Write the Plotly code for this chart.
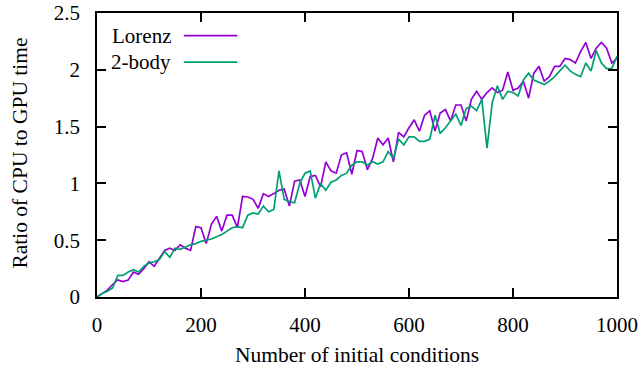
import plotly.graph_objects as go

x_vals = list(range(0, 1001, 10))

lorenz = [0, 0.03, 0.06, 0.11, 0.15, 0.135, 0.15, 0.22, 0.20, 0.25,
          0.31, 0.27, 0.34, 0.41, 0.43, 0.41, 0.46, 0.43, 0.41, 0.62,
          0.61, 0.47, 0.64, 0.71, 0.58, 0.72, 0.72, 0.61, 0.885, 0.88,
          0.86, 0.78, 0.91, 0.885, 0.91, 0.94, 0.95, 0.80, 1.02, 1.03,
          0.885, 1.06, 1.07, 0.97, 1.19, 1.11, 1.09, 1.25, 1.27, 1.08,
          1.29, 1.28, 1.12, 1.22, 1.40, 1.34, 1.40, 1.19, 1.45, 1.41,
          1.49, 1.56, 1.46, 1.60, 1.64, 1.46, 1.62, 1.65, 1.55, 1.69,
          1.69, 1.55, 1.74, 1.81, 1.74, 1.80, 1.84, 1.80, 1.82, 1.98,
          1.82, 1.84, 1.90, 1.75, 1.97, 2.03, 1.90, 1.94, 2.03, 2.03,
          2.10, 2.09, 2.06, 2.16, 2.24, 2.10, 2.19, 2.24, 2.19, 2.06,
          2.10]

two_body = [0, 0.03, 0.05, 0.08, 0.19, 0.19, 0.22, 0.24, 0.22, 0.27,
            0.30, 0.31, 0.33, 0.40, 0.35, 0.43, 0.42, 0.44, 0.46, 0.47,
            0.49, 0.50, 0.51, 0.53, 0.55, 0.58, 0.61, 0.62, 0.61, 0.72,
            0.74, 0.73, 0.80, 0.75, 0.77, 1.11, 0.86, 0.84, 0.83, 1.00,
            1.09, 1.11, 0.87, 1.00, 0.94, 1.01, 1.03, 1.07, 1.09, 1.16,
            1.19, 1.19, 1.16, 1.19, 1.17, 1.19, 1.28, 1.22, 1.39, 1.34,
            1.41, 1.41, 1.37, 1.37, 1.39, 1.60, 1.44, 1.49, 1.55, 1.61,
            1.51, 1.66, 1.68, 1.64, 1.74, 1.31, 1.71, 1.86, 1.74, 1.81,
            1.80, 1.77, 1.91, 1.97, 1.91, 1.89, 1.87, 1.90, 1.94, 1.99,
            2.04, 1.99, 1.96, 1.94, 2.06, 1.99, 2.17, 2.06, 2.01, 2.01,
            2.12]

series_names = ["Lorenz", "2-body"]
colors = ["#9400D3", "#009E73"]

x_tick_vals = [0, 200, 400, 600, 800, 1000]
y_tick_vals = [0, 0.5, 1, 1.5, 2, 2.5]

x_title = "Number of initial conditions"
y_title = "Ratio of CPU to GPU time"

FONT = "Liberation Serif"
FS = 21

fig = go.Figure()
for name, ys, c in zip(series_names, [lorenz, two_body], colors):
    fig.add_trace(go.Scatter(x=x_vals, y=ys, mode="lines", name=name,
                             line=dict(color=c, width=1.7), showlegend=False))

# gnuplot-style legend: text then line sample
leg_y = [0.92, 0.827]
for name, c, ly in zip(series_names, colors, leg_y):
    fig.add_annotation(xref="paper", yref="paper", x=0.147, y=ly, text=name,
                       showarrow=False, xanchor="right", yanchor="middle",
                       font=dict(family=FONT, size=FS, color="black"))
    fig.add_shape(type="line", xref="paper", yref="paper",
                  x0=0.167, x1=0.27, y0=ly, y1=ly,
                  line=dict(color=c, width=1.7))

# axis titles
fig.add_annotation(xref="paper", yref="paper", x=0.5, y=-0.204, text=x_title,
                   showarrow=False, xanchor="center", yanchor="middle",
                   font=dict(family=FONT, size=21.5, color="black"))
fig.add_annotation(xref="paper", yref="paper", x=-0.148, y=0.505, text=y_title,
                   showarrow=False, xanchor="center", yanchor="middle",
                   textangle=-90,
                   font=dict(family=FONT, size=21.5, color="black"))

axis_common = dict(showgrid=False, zeroline=False, showline=True,
                   linecolor="black", linewidth=1.5, mirror="ticks",
                   ticks="inside", ticklen=9, tickwidth=1.5, tickcolor="black",
                   automargin=False, ticklabeloverflow="allow",
                   tickfont=dict(family=FONT, size=FS, color="black"))

fig.update_xaxes(range=[0, 1000], tickvals=x_tick_vals,
                 ticklabelstandoff=8, **axis_common)
fig.update_yaxes(range=[0, 2.5], tickvals=y_tick_vals,
                 ticklabelstandoff=11, **axis_common)

fig.update_layout(width=644, height=375,
                  margin=dict(l=97, r=27, t=13, b=78),
                  paper_bgcolor="white", plot_bgcolor="white",
                  showlegend=False)

# remove the browser's default 8px body margin so the figure sits at the window corner
fig.write_html("out.html",
               config={"displayModeBar": False},
               post_script="document.body.style.margin='0';document.body.style.padding='0';")
